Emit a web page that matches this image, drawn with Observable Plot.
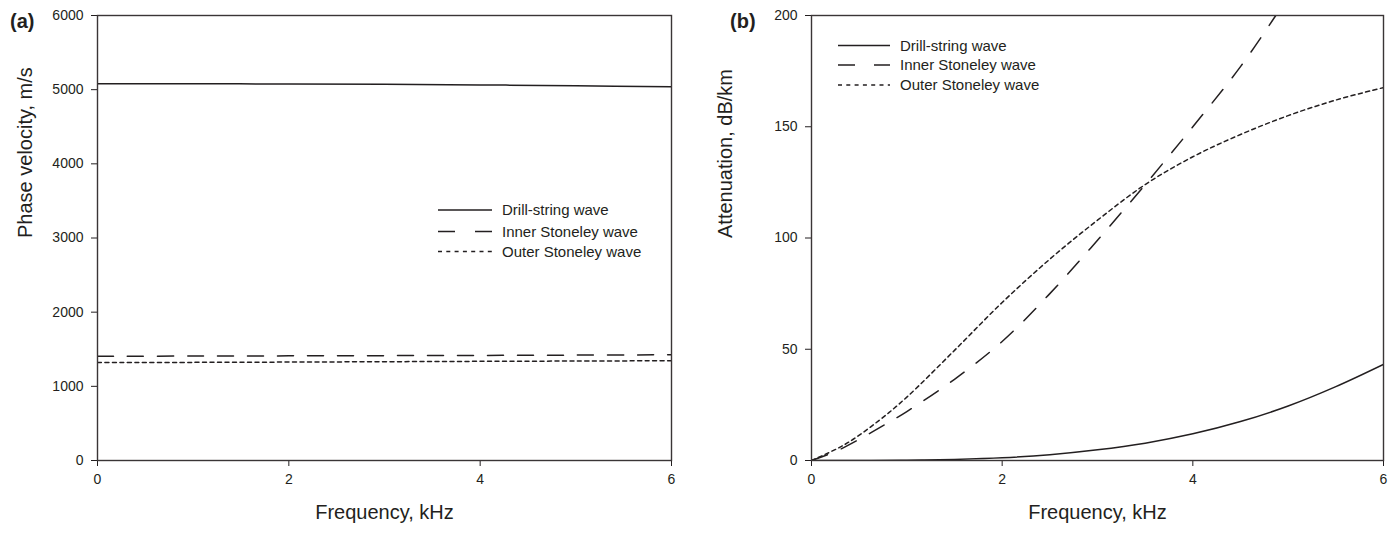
<!DOCTYPE html>
<html><head><meta charset="utf-8">
<script src="https://cdn.jsdelivr.net/npm/d3@7"></script>
<script src="https://cdn.jsdelivr.net/npm/@observablehq/plot@0.6"></script>
<style>
body{margin:0;background:#fff;font-family:"Liberation Sans",Arial,sans-serif}
#wrap{position:relative;width:1397px;height:534px;overflow:hidden}
#wrap > svg{position:absolute;top:0}
</style></head><body><div id="wrap"></div>
<script>
// ---- Data ----
const seriesNames = ["Drill-string wave", "Inner Stoneley wave", "Outer Stoneley wave"];
const panelLabels = ["(a)", "(b)"];
const xLabel = "Frequency, kHz";
const yLabelA = "Phase velocity, m/s";
const yLabelB = "Attenuation, dB/km";
const xTicks = [0, 2, 4, 6];
const yTicksA = [0, 1000, 2000, 3000, 4000, 5000, 6000];
const yTicksB = [0, 50, 100, 150, 200];

// Panel (a): phase velocity (m/s)
const freqA = [0, 1, 2, 3, 4, 5, 6];
const drillVel = [5080, 5079, 5077, 5072, 5064, 5053, 5038];
const innerVel = [1405, 1408, 1411, 1414, 1417, 1421, 1425];
const outerVel = [1320, 1323, 1327, 1332, 1337, 1341, 1345];

// Panel (b): attenuation (dB/km)
const freqDrillB = [0, 0.5, 1, 1.5, 2, 2.5, 3, 3.5, 4, 4.5, 5, 5.5, 6];
const drillAtt = [0, 0, 0.15, 0.5, 1.2, 2.6, 4.8, 7.8, 12, 17.5, 24.5, 33.2, 43.2];
const freqInnerB = [0, 0.25, 0.5, 0.76, 1, 1.5, 2, 2.5, 3, 3.5, 4, 4.5, 4.87];
const innerAtt = [0, 4, 9.5, 15.9, 22, 36.5, 53.5, 75, 99, 124, 150, 177, 200];
const freqOuterB = [0, 0.35, 0.7, 1, 1.5, 2, 2.5, 3, 3.5, 4, 4.5, 5, 5.5, 6];
const outerAtt = [0, 7.2, 17.7, 28.5, 49.5, 71, 90.5, 108, 124, 136.5, 146.5, 155, 162, 167.6];

const ink = "#231f20";
const dashes = {A: [null, "16,14", "4,3.5"], B: [null, "17,15", "4,3.5"]};

function rows(xs, ys) { return xs.map((x, i) => ({x, y: ys[i]})); }

function panel({width, marginLeft, marginRight, yDomain, yTicks, yLabel, lines, dash}) {
  return Plot.plot({
    width, height: 534,
    marginLeft, marginRight, marginTop: 15, marginBottom: 74,
    style: {fontFamily: "'Liberation Sans', Arial, sans-serif", fontSize: "14px", color: ink, background: "transparent", overflow: "visible"},
    x: {domain: [0, 6], ticks: xTicks, tickSize: 6, tickPadding: 8, label: null, tickFormat: d3.format("d")},
    y: {domain: yDomain, ticks: yTicks, tickSize: 6, tickPadding: 8, label: null, tickFormat: d3.format("d")},
    marks: [
      ...lines.map((data, i) => Plot.line(data, {x: "x", y: "y", stroke: ink, strokeWidth: 1.5, strokeDasharray: dash[i], curve: "catmull-rom", clip: true})),
      Plot.frame({stroke: "#3a3536", strokeWidth: 1.4}),
      Plot.text([xLabel], {frameAnchor: "bottom", dy: 58, fontSize: 20, fill: ink}),
      Plot.text([yLabel], {frameAnchor: "left", dx: -marginLeft + 25, rotate: -90, fontSize: 20, fill: ink})
    ]
  });
}

const wrap = document.getElementById("wrap");

const pa = panel({
  width: 700, marginLeft: 97, marginRight: 29,
  yDomain: [0, 6000], yTicks: yTicksA, yLabel: yLabelA,
  lines: [rows(freqA, drillVel), rows(freqA, innerVel), rows(freqA, outerVel)],
  dash: dashes.A
});
pa.style.left = "0px";
wrap.appendChild(pa);

const pb = panel({
  width: 697, marginLeft: 111, marginRight: 14,
  yDomain: [0, 200], yTicks: yTicksB, yLabel: yLabelB,
  lines: [rows(freqDrillB, drillAtt), rows(freqInnerB, innerAtt), rows(freqOuterB, outerAtt)],
  dash: dashes.B
});
pb.style.left = "700px";
wrap.appendChild(pb);

// ---- Overlay: panel labels and legends ----
const ov = d3.select(wrap).append("svg")
  .attr("width", 1397).attr("height", 534)
  .style("left", "0px").style("pointer-events", "none")
  .style("font-family", "'Liberation Sans', Arial, sans-serif");

ov.selectAll("text.plab").data(panelLabels).join("text")
  .attr("class", "plab")
  .attr("x", (d, i) => i ? 730 : 10)
  .attr("y", 28)
  .attr("font-size", 20).attr("font-weight", "bold").attr("fill", ink)
  .text(d => d);

function legend(x0, x1, tx, ys, dash) {
  const g = ov.append("g");
  seriesNames.forEach((name, i) => {
    g.append("line").attr("x1", x0).attr("x2", x1).attr("y1", ys[i]).attr("y2", ys[i])
      .attr("stroke", ink).attr("stroke-width", 1.4)
      .attr("stroke-dasharray", dash[i]);
    g.append("text").attr("x", tx).attr("y", ys[i]).attr("dy", "0.35em")
      .attr("font-size", 15).attr("fill", ink).text(name);
  });
}
legend(438, 492, 502, [210, 231.5, 251.5], [null, "17,20", "4,4.3"]);
legend(838, 890, 900, [45.5, 65, 85], [null, "17,19", "4,4.3"]);
</script>
</body></html>
